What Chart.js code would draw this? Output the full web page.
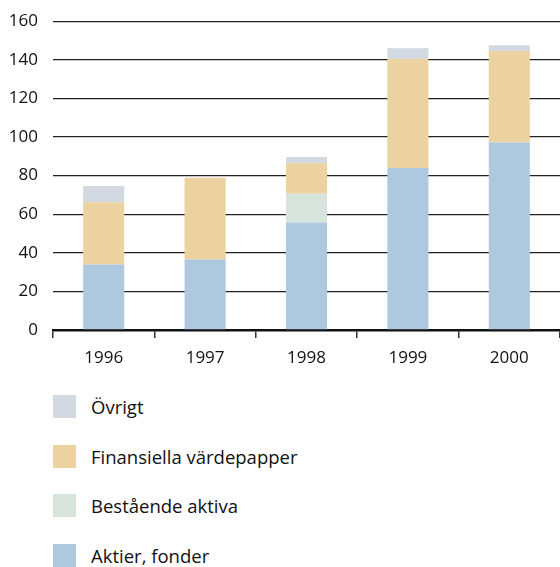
<!DOCTYPE html>
<html>
<head>
<meta charset="utf-8">
<script src="https://cdn.jsdelivr.net/npm/chart.js@4/dist/chart.umd.min.js"></script>
<style>
  body { margin: 0; background: #fff; }
  #wrap { position: relative; width: 560px; height: 567px; overflow: hidden; }
  #chart { position: absolute; left: 0; top: -4px; }
  #legend { position: absolute; left: 53px; top: 395px; font-family: "Open Sans", sans-serif; font-size: 18.5px; color: #111; }
  .item { display: flex; align-items: center; height: 23px; margin-bottom: 26.7px; }
  .box { width: 23px; height: 23px; margin-right: 15px; }
</style>
</head>
<body>
<div id="wrap">
  <canvas id="chart" width="560" height="384"></canvas>
  <div id="legend"></div>
</div>
<script>
// Years on the x axis
const years = ["1996", "1997", "1998", "1999", "2000"];

// Stacked series, bottom to top
const aktierFonder = [34, 36.5, 55.7, 84, 97.2];
const bestaendeAktiva = [0, 0, 14.9, 0, 0];
const finansiellaVardepapper = [32.2, 42.4, 15.8, 56.4, 47.3];
const ovrigt = [8.4, 0, 3.3, 5.6, 3.1];

const yTicks = [0, 20, 40, 60, 80, 100, 120, 140, 160];

const font = { family: "Open Sans", size: 17 };

const datasets = [
  { label: "Aktier, fonder", data: aktierFonder, backgroundColor: "#aec8e0" },
  { label: "Bestående aktiva", data: bestaendeAktiva, backgroundColor: "#d7e4dc" },
  { label: "Finansiella värdepapper", data: finansiellaVardepapper, backgroundColor: "#ebd2a0" },
  { label: "Övrigt", data: ovrigt, backgroundColor: "#d2d9e0" },
];

const ctx = document.getElementById("chart").getContext("2d");
const chart = new Chart(ctx, {
  type: "bar",
  data: {
    labels: years,
    datasets: datasets.map((d) => ({
      ...d,
      borderWidth: 0,
      categoryPercentage: 1,
      barPercentage: 0.405,
    })),
  },
  options: {
    responsive: false,
    animation: false,
    layout: { padding: { top: 10, right: 0, left: 0, bottom: 0 } },
    plugins: {
      legend: { display: false },
      tooltip: { enabled: false },
    },
    scales: {
      x: {
        stacked: true,
        offset: true,
        grid: {
          offset: true,
          drawOnChartArea: false,
          drawTicks: true,
          tickLength: 8,
          color: "#333",
          lineWidth: 1.5,
        },
        border: { display: true, color: "#111", width: 2.5 },
        ticks: { color: "#111", font: font, padding: 10 },
        afterFit: (scale) => { scale.height = 50; },
      },
      y: {
        stacked: true,
        min: 0,
        max: 160,
        afterBuildTicks: (scale) => {
          scale.ticks = yTicks.map((v) => ({ value: v }));
        },
        grid: { drawTicks: false, color: "#222", lineWidth: 1.3 },
        border: { display: false },
        ticks: { color: "#111", font: font, padding: 15 },
        afterFit: (scale) => { scale.width = 53; },
      },
    },
  },
});

// Legend: top item is the top of the stack
const legend = document.getElementById("legend");
datasets.slice().reverse().forEach((d) => {
  const item = document.createElement("div");
  item.className = "item";
  item.innerHTML = `<div class="box" style="background:${d.backgroundColor}"></div><span>${d.label}</span>`;
  legend.appendChild(item);
});
</script>
</body>
</html>
